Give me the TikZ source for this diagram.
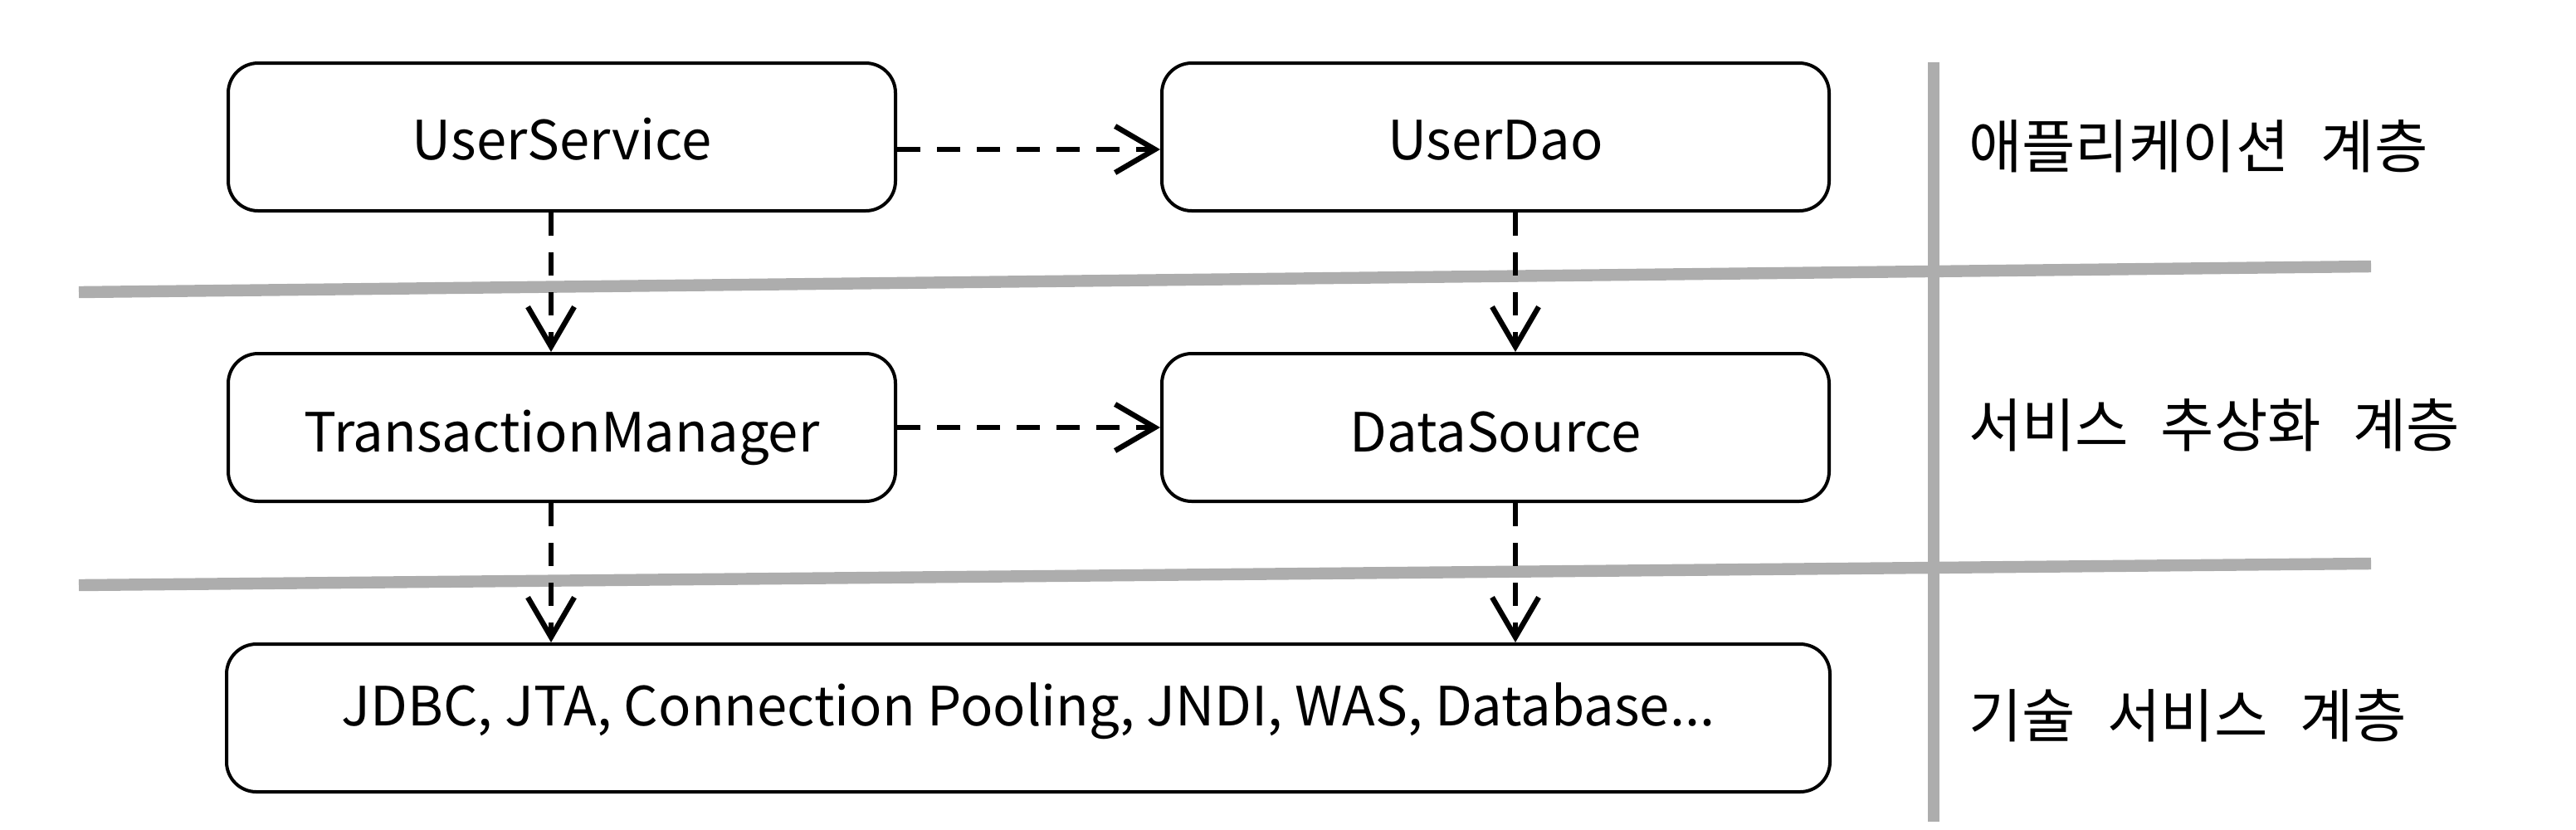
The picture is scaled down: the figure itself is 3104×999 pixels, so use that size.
\documentclass[tikz,border=0pt]{standalone}
\usepackage{fontspec}
\setmainfont{Noto Sans CJK KR}
\usetikzlibrary{arrows.meta}
\definecolor{sepgray}{RGB}{173,173,173}
\tikzset{every picture/.style={line width=1pt}}

\begin{document}
\begin{tikzpicture}[x=0.25pt,y=0.25pt,yscale=-1,xscale=1,
    comp/.style={draw, line width=1pt, rounded corners=9pt, minimum width=201pt, minimum height=44.5pt, inner sep=0pt, text height=13.5pt, text depth=0pt, font=\fontsize{16.3}{20}\selectfont},
    dep/.style={line width=1.3pt, dash pattern=on 7pt off 5pt, -{Straight Barb[length=12pt,width=14pt,line width=1.6pt]}},
    sep/.style={sepgray, line width=3.6pt},
    layer/.style={anchor=west, inner sep=0pt, font=\fontsize{17.5}{20}\selectfont, execute at begin node={\spaceskip=.55em\relax}}]
    \useasboundingbox (0,0) rectangle (3104,999);

    % layer separators
    \draw[sep] (95,352) -- (2857,321);
    \draw[sep] (95,705) -- (2857,679);
    \draw[sep] (2330,75) -- (2330,990);

    % components
    \node[comp] (us) at (677,165) {UserService};
    \node[comp] (dao) at (1802,165) {UserDao};
    \node[comp, text height=14.5pt] (tm) at (677,515) {TransactionManager};
    \node[comp, text height=14.5pt] (ds) at (1802,515) {DataSource};
    \node[comp, minimum width=483pt, text height=10.5pt, text depth=6pt] (tech) at (1239,865) {JDBC, JTA, Connection Pooling, JNDI, WAS, Database...};

    % layer names
    \node[layer] (app) at (2370,176) {애플리케이션 계층};
    \node[layer] (abs) at (2370,512) {서비스 추상화 계층};
    \node[layer] (svc) at (2370,862) {기술 서비스 계층};

    % dependencies
    \draw[dep] ([yshift=3.75pt]us.east) -- ([yshift=3.75pt]dao.west);
    \draw[dep] (tm.east) -- (ds.west);
    \draw[dep] ([xshift=-3.25pt]us.south) -- ([xshift=-3.25pt]tm.north);
    \draw[dep] ([xshift=6pt]dao.south) -- ([xshift=6pt]ds.north);
    \draw[dep] ([xshift=-3.25pt]tm.south) -- ([xshift=-3.25pt]tech.north -| tm.south);
    \draw[dep] ([xshift=6pt]ds.south) -- ([xshift=6pt]tech.north -| ds.south);
\end{tikzpicture}
\end{document}
